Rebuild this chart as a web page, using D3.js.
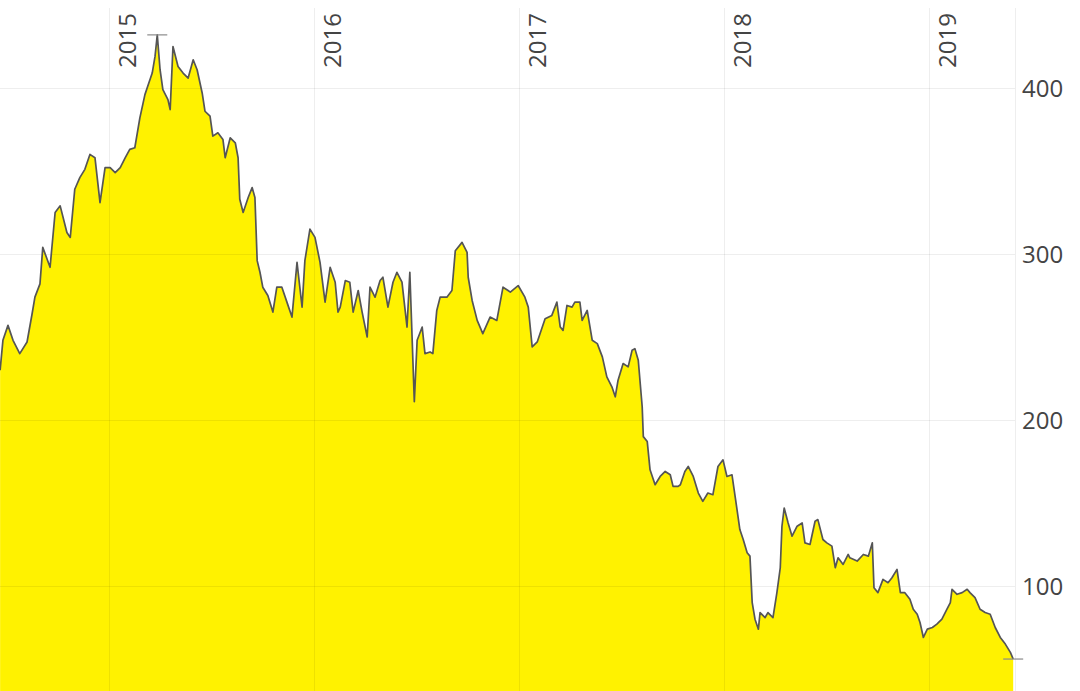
<!DOCTYPE html>
<html>
<head>
<meta charset="utf-8">
<script src="https://cdn.jsdelivr.net/npm/d3@7"></script>
<style>
  html, body { margin: 0; padding: 0; background: #fff; }
  svg { display: block; }
</style>
</head>
<body>
<svg id="chart" width="1080" height="691"></svg>
<script>
const dates = [
"2014-06-21","2014-06-26","2014-07-05","2014-07-14","2014-07-26","2014-08-08","2014-08-17","2014-08-22","2014-08-31","2014-09-05",
"2014-09-18","2014-09-27","2014-10-06","2014-10-18","2014-10-24","2014-11-01","2014-11-10","2014-11-19","2014-11-28","2014-12-07",
"2014-12-16","2014-12-25","2015-01-03","2015-01-12","2015-01-21","2015-01-30","2015-02-07","2015-02-16","2015-02-25","2015-03-06",
"2015-03-11","2015-03-19","2015-03-24","2015-03-28","2015-04-02","2015-04-07","2015-04-16","2015-04-20","2015-04-25","2015-05-04",
"2015-05-13","2015-05-22","2015-05-31","2015-06-07","2015-06-16","2015-06-21","2015-06-30","2015-07-05","2015-07-14","2015-07-23",
"2015-07-27","2015-08-05","2015-08-14","2015-08-19","2015-08-22","2015-08-28","2015-09-06","2015-09-13","2015-09-18","2015-09-22",
"2015-09-27","2015-10-02","2015-10-11","2015-10-20","2015-10-27","2015-11-05","2015-11-14","2015-11-23","2015-12-02","2015-12-11",
"2015-12-16","2015-12-25","2016-01-03","2016-01-12","2016-01-21","2016-01-30","2016-02-08","2016-02-13","2016-02-17","2016-02-26",
"2016-03-05","2016-03-11","2016-03-20","2016-03-27","2016-04-05","2016-04-10","2016-04-19","2016-04-28","2016-05-03","2016-05-12",
"2016-05-21","2016-05-28","2016-06-06","2016-06-15","2016-06-20","2016-06-28","2016-07-03","2016-07-12","2016-07-17","2016-07-26",
"2016-07-31","2016-08-07","2016-08-13","2016-08-25","2016-09-03","2016-09-09","2016-09-21","2016-09-30","2016-10-02","2016-10-09",
"2016-10-18","2016-10-28","2016-11-10","2016-11-22","2016-12-03","2016-12-12","2016-12-16","2016-12-30","2017-01-11","2017-01-17",
"2017-01-24","2017-02-02","2017-02-11","2017-02-16","2017-02-28","2017-03-09","2017-03-15","2017-03-20","2017-03-27","2017-04-05",
"2017-04-10","2017-04-19","2017-04-23","2017-05-02","2017-05-11","2017-05-20","2017-05-29","2017-06-06","2017-06-15","2017-06-21",
"2017-06-26","2017-07-05","2017-07-14","2017-07-21","2017-07-26","2017-08-01","2017-08-08","2017-08-10","2017-08-17","2017-08-22",
"2017-08-31","2017-09-09","2017-09-18","2017-09-27","2017-10-02","2017-10-11","2017-10-15","2017-10-23","2017-10-29","2017-11-07",
"2017-11-16","2017-11-24","2017-12-03","2017-12-12","2017-12-21","2017-12-30","2018-01-06","2018-01-15","2018-01-21","2018-01-29",
"2018-02-04","2018-02-11","2018-02-16","2018-02-20","2018-02-25","2018-03-03","2018-03-06","2018-03-15","2018-03-20","2018-03-29",
"2018-04-05","2018-04-11","2018-04-14","2018-04-18","2018-04-25","2018-05-02","2018-05-11","2018-05-20","2018-05-25","2018-06-03",
"2018-06-12","2018-06-17","2018-06-26","2018-07-03","2018-07-12","2018-07-18","2018-07-23","2018-08-01","2018-08-10","2018-08-13",
"2018-08-26","2018-09-06","2018-09-15","2018-09-22","2018-09-25","2018-10-02","2018-10-11","2018-10-20","2018-10-27","2018-11-05",
"2018-11-11","2018-11-19","2018-11-28","2018-12-04","2018-12-11","2018-12-16","2018-12-22","2018-12-29","2019-01-07","2019-01-15",
"2019-01-24","2019-02-02","2019-02-08","2019-02-11","2019-02-20","2019-03-01","2019-03-10","2019-03-15","2019-03-24","2019-04-02",
"2019-04-11","2019-04-20","2019-04-29","2019-05-08","2019-05-17","2019-05-26","2019-05-31"
];
const prices = [
230,248,257,248,240,247,264,274,282,304,
292,325,329,313,310,339,346,351,360,358,
331,352,352,349,352,358,363,364,382,396,
401,409,419,432,411,399,393,387,425,413,
409,406,417,411,397,386,383,371,373,369,
358,370,367,358,333,325,334,340,334,296,
289,280,275,265,280,280,271,262,295,268,
296,315,310,295,271,292,283,265,268,284,
283,265,278,265,250,280,274,284,286,268,
283,289,283,256,289,211,248,256,240,241,
240,266,274,274,278,302,307,301,286,272,
260,252,262,260,280,278,277,281,274,268,
244,247,256,261,263,271,256,254,269,268,
271,271,260,266,248,246,238,226,220,214,
224,234,232,242,243,236,208,190,187,170,
161,166,169,167,160,160,161,169,172,166,
156,151,156,155,172,176,166,167,153,134,
128,120,118,90,80,74,84,81,84,81,
96,111,136,147,138,130,136,138,126,125,
139,140,128,126,124,111,117,113,119,117,
115,119,118,126,99,96,104,102,105,110,
96,96,92,86,83,78,69,74,75,77,
80,86,90,98,95,96,98,96,93,86,
84,83,75,69,65,60,56
];
const yearTicks = ["2015-01-01","2016-01-01","2017-01-01","2018-01-01","2019-01-01"];
const yearLabels = ["2015","2016","2017","2018","2019"];
const valueTicks = [100, 200, 300, 400];

const parse = d3.timeParse("%Y-%m-%d");
const data = dates.map((d, i) => ({ date: parse(d), value: prices[i] }));

const plot = { left: 0, right: 1015, top: 8, bottom: 691 };

const x = d3.scaleTime()
  .domain([parse("2015-01-01"), parse("2019-01-01")])
  .range([109, 929]);
const y = d3.scaleLinear()
  .domain([100, 400])
  .range([586, 88]);

const svg = d3.select("#chart");

const area = d3.area()
  .x(d => x(d.date))
  .y0(plot.bottom)
  .y1(d => y(d.value));
const line = d3.line()
  .x(d => x(d.date))
  .y(d => y(d.value));

svg.append("path")
  .datum(data)
  .attr("d", area)
  .attr("fill", "#fff200");

const grid = svg.append("g").attr("stroke", "#000").attr("stroke-opacity", 0.065).attr("stroke-width", 1);
grid.selectAll("line.v")
  .data(yearTicks.map(parse))
  .join("line")
  .attr("x1", d => Math.round(x(d)) + 0.5).attr("x2", d => Math.round(x(d)) + 0.5)
  .attr("y1", plot.top).attr("y2", plot.bottom);
grid.selectAll("line.h")
  .data(valueTicks)
  .join("line")
  .attr("x1", plot.left).attr("x2", plot.right)
  .attr("y1", d => Math.round(y(d)) + 0.5).attr("y2", d => Math.round(y(d)) + 0.5);
grid.append("line")
  .attr("x1", plot.right + 0.5).attr("x2", plot.right + 0.5)
  .attr("y1", plot.top).attr("y2", plot.bottom);

svg.append("path")
  .datum(data)
  .attr("d", line)
  .attr("fill", "none")
  .attr("stroke", "#555")
  .attr("stroke-width", 1.7)
  .attr("stroke-linejoin", "round");

const maxPt = data.reduce((a, b) => (b.value > a.value ? b : a));
const lastPt = data[data.length - 1];
[maxPt, lastPt].forEach(p => {
  svg.append("line")
    .attr("x1", x(p.date) - 10).attr("x2", x(p.date) + 10)
    .attr("y1", y(p.value)).attr("y2", y(p.value))
    .attr("stroke", "#8a8a8a").attr("stroke-width", 1.2);
});

svg.append("g")
  .selectAll("text")
  .data(yearTicks.map((d, i) => ({ d: parse(d), t: yearLabels[i] })))
  .join("text")
  .attr("transform", d => `translate(${x(d.d) + 27},68) rotate(-90)`)
  .attr("text-anchor", "start")
  .attr("font-family", "'Open Sans', 'Noto Sans', sans-serif")
  .attr("font-size", 24)
  .attr("fill", "#444")
  .text(d => d.t);

svg.append("g")
  .selectAll("text")
  .data(valueTicks)
  .join("text")
  .attr("x", 1022)
  .attr("y", d => y(d))
  .attr("dy", "0.36em")
  .attr("text-anchor", "start")
  .attr("font-family", "'Open Sans', 'Noto Sans', sans-serif")
  .attr("font-size", 24)
  .attr("fill", "#444")
  .text(d => d);
</script>
</body>
</html>
